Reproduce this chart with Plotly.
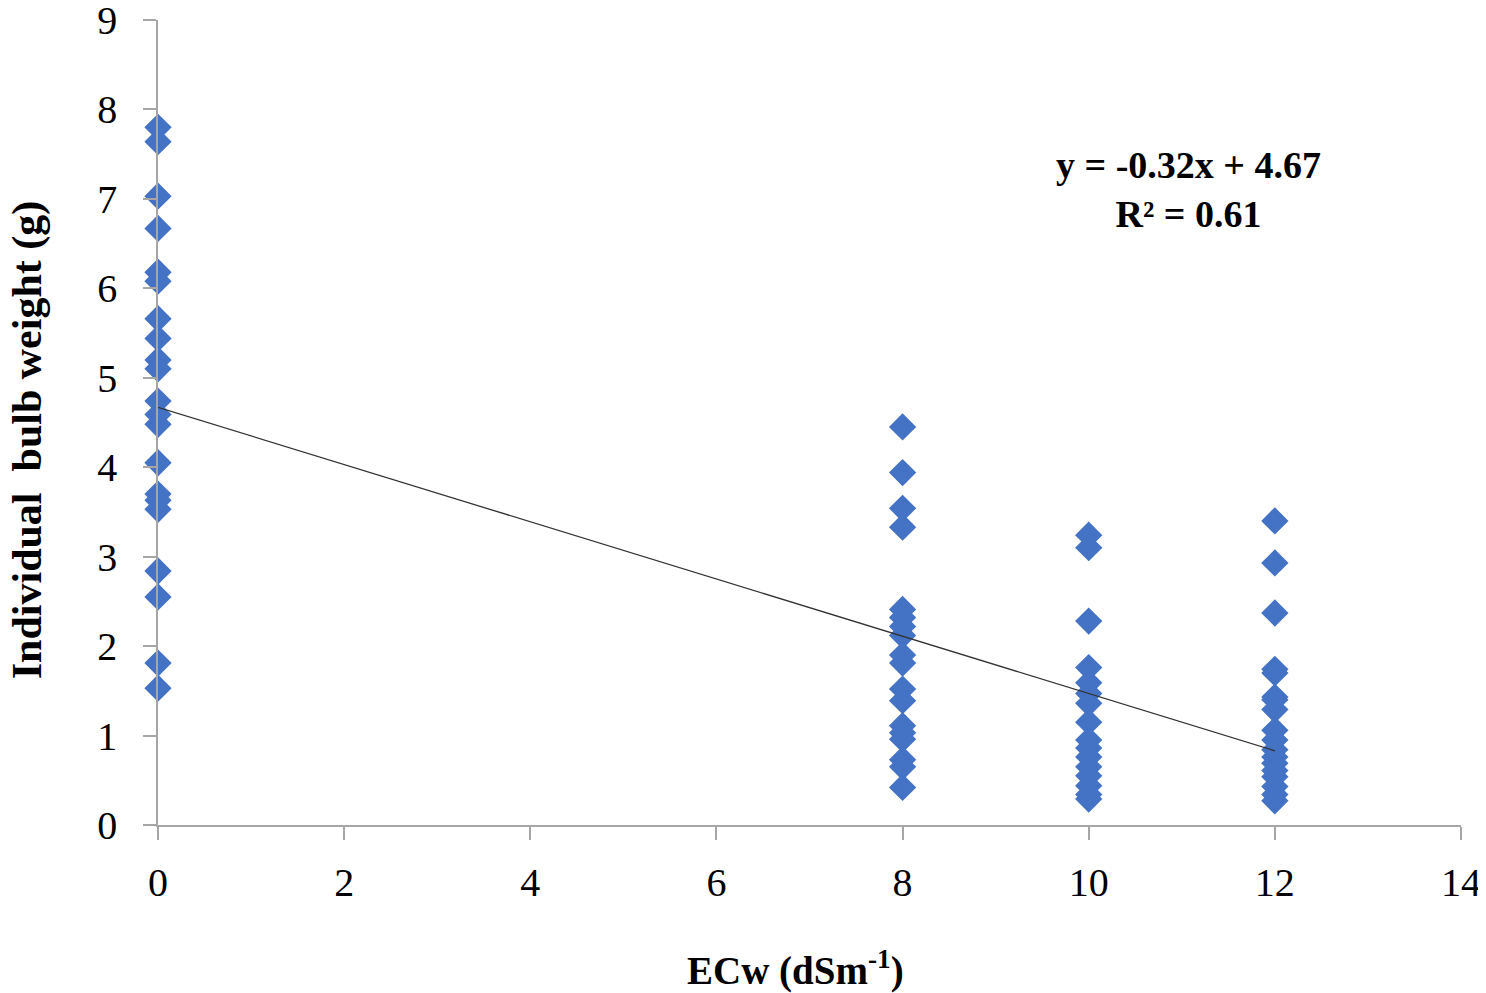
import plotly.graph_objects as go

# ECw levels and individual bulb weights
x0_vals = [7.80, 7.64, 7.03, 6.67, 6.18, 6.08, 5.66, 5.44, 5.20, 5.10, 4.74, 4.59,
           4.48, 4.05, 3.70, 3.63, 3.53, 2.84, 2.55, 1.81, 1.53]
x8_vals = [4.45, 3.94, 3.54, 3.33, 2.41, 2.32, 2.22, 2.12, 1.90, 1.81, 1.52, 1.39,
           1.11, 1.03, 0.96, 0.73, 0.65, 0.42]
x10_vals = [3.24, 3.10, 2.28, 1.76, 1.59, 1.47, 1.36, 1.15, 0.95, 0.86, 0.76, 0.65,
            0.55, 0.44, 0.34, 0.29]
x12_vals = [3.40, 2.93, 2.37, 1.74, 1.70, 1.43, 1.40, 1.29, 1.06, 0.95, 0.84, 0.76,
            0.69, 0.61, 0.54, 0.43, 0.34, 0.27]

ecw = [0] * len(x0_vals) + [8] * len(x8_vals) + [10] * len(x10_vals) + [12] * len(x12_vals)
weight = x0_vals + x8_vals + x10_vals + x12_vals

# linear trendline y = -0.32x + 4.67, drawn from x=0 to x=12
trend_x = [0, 12]
trend_y = [4.67, 0.83]

x_ticks = [0, 2, 4, 6, 8, 10, 12, 14]
y_ticks = [0, 1, 2, 3, 4, 5, 6, 7, 8, 9]

font_family = "Liberation Serif"

fig = go.Figure()
fig.add_trace(go.Scatter(x=ecw, y=weight, mode='markers', cliponaxis=False,
                         marker=dict(symbol='diamond', size=21, color='#4472C4'),
                         showlegend=False))
fig.add_trace(go.Scatter(x=trend_x, y=trend_y, mode='lines', cliponaxis=False,
                         line=dict(color='#333333', width=1.3),
                         showlegend=False))

fig.add_annotation(x=11.07, y=7.11, xref='x', yref='y',
                   text='<b>y = -0.32x + 4.67</b><br><b>R² = 0.61</b>',
                   showarrow=False, align='center',
                   font=dict(family=font_family, size=38, color='black'))

# axis titles as annotations (they sit a little off-centre in the original)
fig.add_annotation(x=-0.1005, y=0.478, xref='paper', yref='paper',
                   text='<b>Individual  bulb weight (g)</b>', textangle=-90,
                   showarrow=False, xanchor='center', yanchor='middle',
                   font=dict(family=font_family, size=42, color='black'))
fig.add_annotation(x=0.489, y=-0.178, xref='paper', yref='paper',
                   text='<b>ECw (dSm<sup>-1</sup>)</b>',
                   showarrow=False, xanchor='center', yanchor='middle',
                   font=dict(family=font_family, size=39, color='black'))

fig.update_xaxes(range=[0, 14], tickvals=x_ticks, showgrid=False, zeroline=False,
                 automargin=False, ticklabeloverflow='allow',
                 showline=True, linecolor='#A6A6A6', linewidth=1.5,
                 ticks='outside', ticklen=13, tickcolor='#A6A6A6', tickwidth=1.5,
                 ticklabelstandoff=8,
                 tickfont=dict(family=font_family, size=40, color='black'))
fig.update_yaxes(range=[0, 9], tickvals=y_ticks, showgrid=False, zeroline=False,
                 automargin=False, ticklabeloverflow='allow',
                 showline=True, linecolor='#A6A6A6', linewidth=1.5,
                 ticks='outside', ticklen=13, tickcolor='#A6A6A6', tickwidth=1.5,
                 ticklabelstandoff=18,
                 tickfont=dict(family=font_family, size=40, color='black'))

# page body adds 8px, so margins are shifted to keep the plot area in place
fig.update_layout(width=1486, height=993, plot_bgcolor='white', paper_bgcolor='white',
                  margin=dict(l=150, r=33, t=12, b=176))

fig.write_html("out.html")
